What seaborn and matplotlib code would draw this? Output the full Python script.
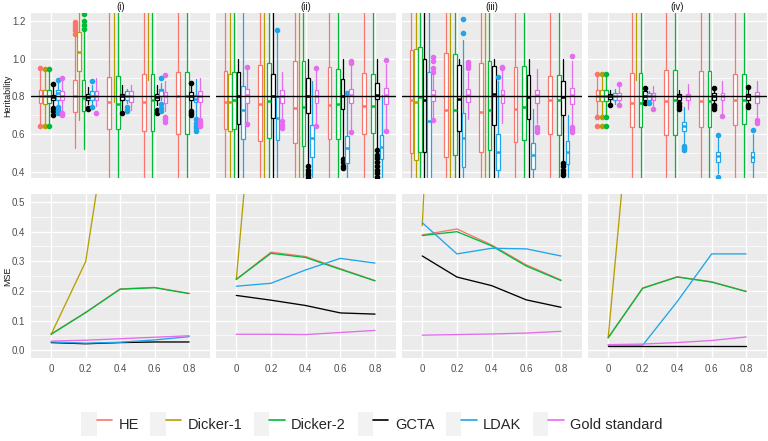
import numpy as np
import pandas as pd
import matplotlib
matplotlib.use("Agg")
import matplotlib.pyplot as plt
import seaborn as sns
from matplotlib.lines import Line2D
from matplotlib.patches import Rectangle
from matplotlib.legend_handler import HandlerTuple
from matplotlib.ticker import MultipleLocator

# ---------------- data ----------------
METHODS = ["HE", "Dicker-1", "Dicker-2", "GCTA", "LDAK", "Gold standard"]
COLORS = ["#F8766D", "#B79F00", "#00BA38", "#000000", "#1FA5EA", "#E56BEF"]
X_VALUES = [0, 0.2, 0.4, 0.6, 0.8]
X_LABELS = ["0", "0.2", "0.4", "0.6", "0.8"]
PANELS = ["(i)", "(ii)", "(iii)", "(iv)"]
TRUE_H = 0.8

# box stats per x (rows) and method (cols): (whisker low, q1, median, q3, whisker high)
BOX_I = [
    [(0.655, 0.762, 0.800, 0.836, 0.94), (0.655, 0.758, 0.800, 0.836, 0.94), (0.655, 0.762, 0.800, 0.836, 0.94),
     (0.750, 0.782, 0.797, 0.809, 0.85), (0.760, 0.779, 0.820, 0.832, 0.87), (0.720, 0.779, 0.800, 0.829, 0.88)],
    [(0.523, 0.718, 0.800, 0.885, 1.12), (0.673, 0.935, 1.036, 1.142, 1.60), (0.518, 0.723, 0.790, 0.885, 1.14),
     (0.760, 0.780, 0.797, 0.815, 0.85), (0.750, 0.780, 0.800, 0.829, 0.86), (0.750, 0.780, 0.800, 0.827, 0.90)],
    [(0.100, 0.629, 0.771, 0.903, 1.60), (0.770, 1.300, 1.400, 1.500, 1.80), (0.100, 0.629, 0.760, 0.907, 1.60),
     (0.730, 0.783, 0.800, 0.815, 0.859), (0.762, 0.780, 0.800, 0.829, 0.84), (0.726, 0.771, 0.800, 0.829, 0.859)],
    [(0.100, 0.617, 0.771, 0.917, 1.60), (0.885, 1.350, 1.500, 1.600, 2.00), (0.100, 0.617, 0.780, 0.917, 1.60),
     (0.753, 0.783, 0.797, 0.815, 0.859), (0.780, 0.800, 0.833, 0.841, 0.87), (0.720, 0.765, 0.800, 0.824, 0.88)],
    [(0.100, 0.600, 0.800, 0.930, 1.60), (1.300, 1.500, 1.700, 1.900, 2.20), (0.100, 0.600, 0.800, 0.930, 1.60),
     (0.730, 0.783, 0.800, 0.824, 0.86), (0.690, 0.771, 0.785, 0.806, 0.894), (0.690, 0.771, 0.800, 0.829, 0.90)],
]
BOX_II = [
    [(0.100, 0.629, 0.771, 0.935, 1.60), (0.100, 0.615, 0.771, 0.917, 1.60), (0.100, 0.629, 0.783, 0.930, 1.60),
     (0.100, 0.653, 0.804, 0.931, 1.00), (0.100, 0.573, 0.730, 0.855, 1.60), (0.660, 0.767, 0.806, 0.841, 0.95)],
    [(0.100, 0.562, 0.760, 0.969, 1.60), (0.100, 1.300, 1.500, 1.700, 2.00), (0.100, 0.576, 0.776, 0.975, 1.60),
     (0.100, 0.686, 0.800, 0.917, 1.60), (0.100, 0.567, 0.686, 0.797, 1.14), (0.680, 0.767, 0.802, 0.836, 0.93)],
    [(0.100, 0.550, 0.740, 0.988, 1.60), (0.100, 1.300, 1.500, 1.700, 2.00), (0.100, 0.535, 0.744, 0.990, 1.60),
     (0.440, 0.709, 0.802, 0.900, 1.00), (0.100, 0.479, 0.580, 0.650, 0.88), (0.645, 0.767, 0.802, 0.836, 0.95)],
    [(0.100, 0.571, 0.753, 0.956, 1.60), (1.300, 1.500, 1.700, 1.900, 2.20), (0.100, 0.571, 0.757, 0.947, 1.60),
     (0.470, 0.732, 0.802, 0.891, 1.00), (0.100, 0.444, 0.523, 0.589, 0.81), (0.620, 0.762, 0.806, 0.841, 0.965)],
    [(0.100, 0.600, 0.748, 0.924, 1.60), (1.300, 1.500, 1.700, 1.900, 2.20), (0.100, 0.603, 0.748, 0.921, 1.60),
     (0.520, 0.785, 0.806, 0.870, 1.00), (0.100, 0.465, 0.532, 0.594, 0.806), (0.630, 0.757, 0.806, 0.847, 0.97)],
]
BOX_III = [
    [(0.100, 0.497, 0.783, 1.048, 1.60), (0.100, 0.461, 0.771, 1.053, 1.60), (0.100, 0.506, 0.797, 1.062, 1.60),
     (0.100, 0.506, 0.780, 1.000, 1.60), (0.100, 0.300, 0.670, 0.930, 1.60), (0.680, 0.774, 0.806, 0.836, 0.92)],
    [(0.100, 0.479, 0.726, 1.032, 1.60), (0.100, 1.300, 1.500, 1.700, 2.00), (0.100, 0.488, 0.726, 1.027, 1.60),
     (0.100, 0.615, 0.788, 0.965, 1.00), (0.100, 0.426, 0.576, 0.709, 1.10), (0.680, 0.771, 0.806, 0.841, 0.93)],
    [(0.100, 0.506, 0.718, 0.977, 1.60), (0.100, 1.300, 1.500, 1.700, 2.00), (0.100, 0.514, 0.726, 0.988, 1.60),
     (0.100, 0.647, 0.815, 0.960, 1.00), (0.100, 0.408, 0.506, 0.600, 0.88), (0.660, 0.767, 0.806, 0.836, 0.94)],
    [(0.100, 0.559, 0.735, 0.956, 1.60), (1.300, 1.500, 1.700, 1.900, 2.20), (0.100, 0.567, 0.741, 0.960, 1.60),
     (0.100, 0.677, 0.797, 0.915, 1.00), (0.100, 0.412, 0.488, 0.550, 0.735), (0.660, 0.762, 0.806, 0.836, 0.947)],
    [(0.100, 0.598, 0.780, 0.907, 1.60), (1.300, 1.500, 1.700, 1.900, 2.20), (0.100, 0.594, 0.780, 0.916, 1.60),
     (0.450, 0.700, 0.794, 0.880, 1.00), (0.100, 0.440, 0.506, 0.564, 0.70), (0.650, 0.757, 0.806, 0.845, 0.99)],
]
BOX_IV = [
    [(0.700, 0.776, 0.802, 0.833, 0.91), (0.700, 0.776, 0.802, 0.833, 0.91), (0.700, 0.776, 0.802, 0.833, 0.91),
     (0.770, 0.785, 0.800, 0.811, 0.833), (0.758, 0.780, 0.800, 0.818, 0.84), (0.750, 0.783, 0.800, 0.818, 0.85)],
    [(0.100, 0.638, 0.765, 0.924, 1.60), (0.885, 1.300, 1.450, 1.600, 2.00), (0.100, 0.638, 0.765, 0.924, 1.60),
     (0.770, 0.780, 0.800, 0.827, 0.84), (0.770, 0.783, 0.800, 0.818, 0.83), (0.750, 0.783, 0.800, 0.818, 0.855)],
    [(0.100, 0.594, 0.776, 0.938, 1.60), (1.300, 1.500, 1.700, 1.900, 2.20), (0.100, 0.594, 0.780, 0.942, 1.60),
     (0.765, 0.780, 0.800, 0.811, 0.833), (0.550, 0.617, 0.641, 0.665, 0.744), (0.735, 0.780, 0.800, 0.811, 0.863)],
    [(0.100, 0.638, 0.776, 0.934, 1.60), (1.300, 1.500, 1.700, 1.900, 2.20), (0.100, 0.638, 0.776, 0.934, 1.60),
     (0.760, 0.780, 0.800, 0.818, 0.845), (0.390, 0.453, 0.483, 0.506, 0.58), (0.700, 0.780, 0.800, 0.818, 0.88)],
    [(0.100, 0.650, 0.783, 0.917, 1.60), (1.300, 1.500, 1.700, 1.900, 2.20), (0.100, 0.652, 0.783, 0.917, 1.60),
     (0.760, 0.780, 0.800, 0.811, 0.845), (0.360, 0.453, 0.479, 0.506, 0.60), (0.690, 0.765, 0.800, 0.824, 0.88)],
]

# outliers keyed by (x index, method)
OUT_I = {
    (0, "HE"): [0.95, 0.643], (0, "Dicker-1"): [0.947, 0.643], (0, "Dicker-2"): [0.947, 0.643],
    (0, "GCTA"): [0.868, 0.74, 0.72, 0.70], (0, "LDAK"): [0.889, 0.744, 0.73, 0.72, 0.709],
    (0, "Gold standard"): [0.895, 0.70, 0.71],
    (1, "HE"): [1.133, 1.15, 1.165, 1.18, 1.195], (1, "Dicker-2"): [1.16, 1.18, 1.20, 1.239],
    (1, "GCTA"): [0.735, 0.74], (1, "LDAK"): [0.88, 0.744], (1, "Gold standard"): [0.709],
    (2, "GCTA"): [0.709], (2, "LDAK"): [0.744, 0.73, 0.72],
    (3, "GCTA"): [0.73, 0.709], (3, "LDAK"): [0.90, 0.76, 0.74, 0.72],
    (3, "Gold standard"): [0.912, 0.69, 0.68, 0.665],
    (4, "GCTA"): [0.873, 0.72, 0.71, 0.70], (4, "LDAK"): [0.68, 0.66, 0.645, 0.63, 0.615],
    (4, "Gold standard"): [0.673, 0.66, 0.645],
}
OUT_II = {
    (0, "Gold standard"): [0.956, 0.652],
    (1, "LDAK"): [1.154], (1, "Gold standard"): [0.668, 0.65, 0.63],
    (2, "GCTA"): [0.43, 0.41, 0.395, 0.38, 0.364], (2, "Gold standard"): [0.951, 0.642],
    (3, "GCTA"): [0.465, 0.45, 0.43, 0.417], (3, "LDAK"): [0.82], (3, "Gold standard"): [0.986, 0.975, 0.608],
    (4, "GCTA"): [0.514, 0.49, 0.47, 0.45, 0.43, 0.41, 0.39, 0.373], (4, "Gold standard"): [0.992, 0.615],
}
OUT_III = {
    (0, "Gold standard"): [1.009, 0.99, 0.95, 0.93, 0.673],
    (1, "LDAK"): [1.21, 1.136], (1, "Gold standard"): [0.983, 0.965, 0.95],
    (2, "LDAK"): [0.903], (2, "Gold standard"): [0.956, 0.95],
    (3, "Gold standard"): [0.638, 0.625, 0.612],
    (4, "GCTA"): [0.444, 0.43, 0.41, 0.395, 0.382], (4, "Gold standard"): [1.013, 0.638, 0.625, 0.612],
}
OUT_IV = {
    (0, "HE"): [0.921, 0.688, 0.645], (0, "Dicker-1"): [0.917, 0.688, 0.645], (0, "Dicker-2"): [0.921, 0.688, 0.645],
    (0, "GCTA"): [0.753], (0, "Gold standard"): [0.864, 0.755],
    (1, "GCTA"): [0.847, 0.762], (1, "LDAK"): [0.762], (1, "Gold standard"): [0.735],
    (2, "GCTA"): [0.762, 0.75, 0.735], (2, "LDAK"): [0.537, 0.525, 0.514],
    (3, "GCTA"): [0.847, 0.753, 0.745, 0.735], (3, "LDAK"): [0.594, 0.373], (3, "Gold standard"): [0.695],
    (4, "GCTA"): [0.85, 0.753, 0.745], (4, "LDAK"): [0.62], (4, "Gold standard"): [0.673, 0.66],
}

# MSE per method over X_VALUES
MSE_I = {
    "HE":            [0.055, 0.128, 0.207, 0.212, 0.192],
    "Dicker-1":      [0.054, 0.299, 1.05, 1.40, 1.70],
    "Dicker-2":      [0.054, 0.127, 0.206, 0.211, 0.191],
    "GCTA":          [0.026, 0.022, 0.026, 0.028, 0.028],
    "LDAK":          [0.028, 0.024, 0.027, 0.035, 0.046],
    "Gold standard": [0.031, 0.034, 0.039, 0.044, 0.049],
}
MSE_II = {
    "HE":            [0.239, 0.331, 0.316, 0.275, 0.235],
    "Dicker-1":      [0.239, 1.55, 2.00, 2.30, 2.50],
    "Dicker-2":      [0.239, 0.327, 0.313, 0.273, 0.234],
    "GCTA":          [0.185, 0.169, 0.151, 0.126, 0.122],
    "LDAK":          [0.216, 0.226, 0.271, 0.310, 0.294],
    "Gold standard": [0.054, 0.054, 0.053, 0.060, 0.067],
}
MSE_III = {
    "HE":            [0.389, 0.409, 0.355, 0.288, 0.237],
    "Dicker-1":      [0.42, 3.00, 3.20, 3.40, 3.50],
    "Dicker-2":      [0.387, 0.400, 0.352, 0.284, 0.235],
    "GCTA":          [0.318, 0.247, 0.218, 0.170, 0.145],
    "LDAK":          [0.430, 0.325, 0.344, 0.342, 0.318],
    "Gold standard": [0.051, 0.053, 0.055, 0.058, 0.064],
}
MSE_IV = {
    "HE":            [0.043, 0.210, 0.248, 0.231, 0.199],
    "Dicker-1":      [0.042, 1.30, 1.60, 1.80, 2.00],
    "Dicker-2":      [0.042, 0.209, 0.247, 0.230, 0.198],
    "GCTA":          [0.016, 0.016, 0.016, 0.016, 0.016],
    "LDAK":          [0.017, 0.017, 0.164, 0.325, 0.325],
    "Gold standard": [0.019, 0.021, 0.026, 0.033, 0.045],
}

BOXES = [BOX_I, BOX_II, BOX_III, BOX_IV]
OUTS = [OUT_I, OUT_II, OUT_III, OUT_IV]
MSES = [MSE_I, MSE_II, MSE_III, MSE_IV]

# ---------------- style ----------------
sns.set_theme(style="darkgrid", rc={
    "axes.facecolor": "#EBEBEB", "grid.color": "white",
    "figure.facecolor": "white", "axes.edgecolor": "none",
})
plt.rcParams["font.family"] = ["Liberation Sans", "DejaVu Sans"]

W, H = 768, 441
fig = plt.figure(figsize=(W / 100, H / 100), dpi=100)

panel_x = [(31, 210), (216, 396), (402, 582), (588, 767)]
top_y = (13, 178)
bot_y = (194, 358)

def add_ax(xr, yr):
    return fig.add_axes([xr[0] / W, 1 - yr[1] / H, (xr[1] - xr[0]) / W, (yr[1] - yr[0]) / H])

XLIM = (-0.117, 0.921)
offsets = (np.arange(6) - 2.5) * 0.025
palette = dict(zip(METHODS, COLORS))

def style_axis(ax, ylim, ymajor, show_y, show_x):
    ax.set_xlim(*XLIM)
    ax.set_ylim(*ylim)
    ax.set_xticks(X_VALUES)
    ax.yaxis.set_major_locator(MultipleLocator(ymajor))
    ax.yaxis.set_minor_locator(MultipleLocator(ymajor / 2))
    ax.grid(which="major", color="white", lw=1.0)
    ax.grid(which="minor", axis="y", color="white", lw=0.5)
    ax.set_axisbelow(True)
    for s in ax.spines.values():
        s.set_visible(False)
    ax.tick_params(which="minor", length=0)
    ax.tick_params(axis="y", which="major", length=2.5 if show_y else 0, width=0.8,
                   color="#333333", labelsize=7, labelcolor="#4D4D4D", pad=1.5)
    ax.tick_params(axis="x", which="major", length=2.5 if show_x else 0, width=0.8,
                   color="#333333", labelsize=7, labelcolor="#4D4D4D", pad=1.5)
    if show_x:
        ax.set_xticklabels(X_LABELS)
    else:
        ax.set_xticklabels([])
    if not show_y:
        ax.set_yticklabels([])
    ax.set_xlabel("")
    ax.set_ylabel("")

for p in range(4):
    # --- heritability boxplots ---
    ax = add_ax(panel_x[p], top_y)
    for xi, x in enumerate(X_VALUES):
        for mi, m in enumerate(METHODS):
            lo, q1, med, q3, hi = BOXES[p][xi][mi]
            st = dict(whislo=lo, q1=q1, med=med, q3=q3, whishi=hi,
                      fliers=OUTS[p].get((xi, m), []))
            c = COLORS[mi]
            ax.bxp([st], positions=[x + offsets[mi]], widths=0.022, patch_artist=True,
                   showcaps=False, manage_ticks=False,
                   boxprops=dict(facecolor="white", edgecolor=c, lw=0.9),
                   whiskerprops=dict(color=c, lw=0.9),
                   medianprops=dict(color=c, lw=1.8, solid_capstyle="butt"),
                   flierprops=dict(marker="o", markerfacecolor=c, markeredgecolor=c,
                                   markersize=3.0, linestyle="none"))
    ax.axhline(TRUE_H, color="black", lw=1.0, zorder=10)
    style_axis(ax, (0.366, 1.243), 0.2, p == 0, False)
    ax.set_title(PANELS[p], fontsize=7, pad=2.5, color="#1A1A1A")
    if p == 0:
        ax.set_yticks([0.4, 0.6, 0.8, 1.0, 1.2])
        ax.set_yticklabels(["0.4", "0.6", "0.8", "1.0", "1.2"])

    # --- MSE lines ---
    axb = add_ax(panel_x[p], bot_y)
    rows = []
    for m in METHODS:
        for x, v in zip(X_VALUES, MSES[p][m]):
            rows.append((m, x, v))
    df = pd.DataFrame(rows, columns=["method", "x", "mse"])
    sns.lineplot(data=df, x="x", y="mse", hue="method", hue_order=METHODS,
                 palette=palette, estimator=None, lw=0.95, legend=False, ax=axb)
    style_axis(axb, (-0.026, 0.527), 0.1, p == 0, True)
    if p == 0:
        axb.set_yticks([0, 0.1, 0.2, 0.3, 0.4, 0.5])
        axb.set_yticklabels(["0.0", "0.1", "0.2", "0.3", "0.4", "0.5"])

fig.text(8 / W, 1 - 95.5 / H, "Heritability", rotation=90, ha="center", va="center",
         fontsize=6.5, color="#1A1A1A")
fig.text(8 / W, 1 - 276 / H, "MSE", rotation=90, ha="center", va="center",
         fontsize=6.5, color="#1A1A1A")

handles = [(Rectangle((0, 0), 1, 1, facecolor="#F2F2F2", edgecolor="none"),
            Line2D([], [], color=c, lw=1.2)) for c in COLORS]
fig.legend(handles, METHODS, handler_map={tuple: HandlerTuple(ndivide=None, pad=0)},
           ncol=6, loc="center", bbox_to_anchor=(372 / W, 1 - 424 / H), frameon=False,
           fontsize=10.5, handlelength=2.1, handleheight=2.1, handletextpad=0.45,
           columnspacing=0.8)

fig.savefig("out.png", dpi=100)
